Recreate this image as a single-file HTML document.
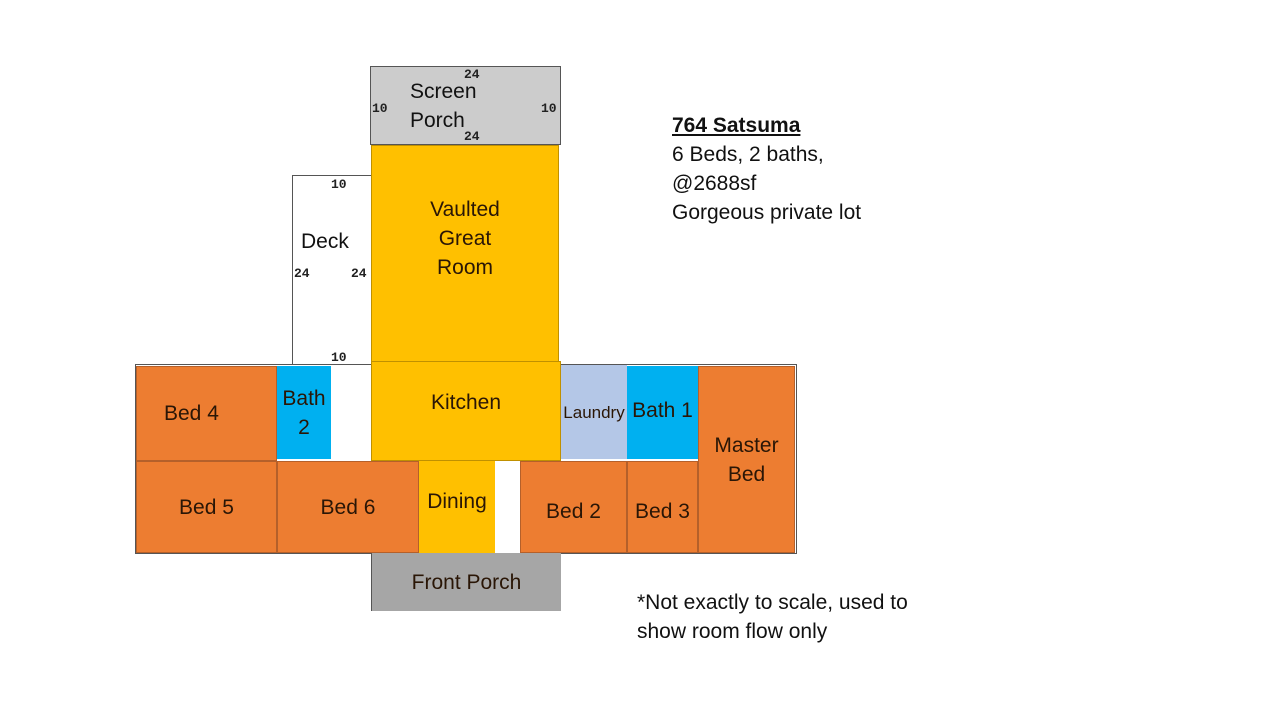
<!DOCTYPE html>
<html><head><meta charset="utf-8"><style>
body{margin:0;width:1280px;height:720px;background:#fff;position:relative;overflow:hidden;font-family:"Liberation Sans",sans-serif;}
.r{position:absolute;box-sizing:border-box;display:flex;align-items:center;justify-content:center;text-align:center;font-size:21px;color:#2a1606;line-height:29px;}
.o{background:#ed7d31;border:1px solid #b5602a;}
.y{background:#ffc000;}
.b{background:#00b0f0;}
.n{position:absolute;font-family:"Liberation Mono",monospace;font-weight:bold;font-size:13px;color:#222;}
.t{position:absolute;font-size:21px;color:#111;line-height:29px;}
</style></head><body>
<div class="r" style="left:370px;top:66px;width:191px;height:79px;background:#cccccc;border:1.5px solid #555;"></div>
<div class="t" style="left:410px;top:77px;">Screen<br>Porch</div>
<div class="n" style="left:464px;top:67px">24</div>
<div class="n" style="left:464px;top:129px">24</div>
<div class="n" style="left:372px;top:101px">10</div>
<div class="n" style="left:541px;top:101px">10</div>
<div class="r" style="left:292px;top:175px;width:80px;height:191px;border:1px solid #555;background:#fff;"></div>
<div class="t" style="left:301px;top:227px">Deck</div>
<div class="n" style="left:331px;top:177px">10</div>
<div class="n" style="left:331px;top:350px">10</div>
<div class="n" style="left:294px;top:266px">24</div>
<div class="n" style="left:351px;top:266px">24</div>
<div class="r y" style="left:371px;top:145px;width:188px;height:217px;border:1px solid #c09000;padding-bottom:30px;">Vaulted<br>Great<br>Room</div>
<div style="position:absolute;left:135px;top:364px;width:662px;height:190px;border:1px solid #555;box-sizing:border-box;background:#fff"></div>
<div class="r o" style="left:136px;top:366px;width:141px;height:95px;justify-content:flex-start;padding-left:27px;">Bed 4</div>
<div class="r b" style="left:277px;top:366px;width:54px;height:93px;">Bath<br>2</div>
<div class="r y" style="left:371px;top:361px;width:190px;height:100px;border:1px solid #c09000;align-items:flex-start;padding-top:26px;">Kitchen</div>
<div class="r" style="left:561px;top:365px;width:66px;height:94px;background:#b4c7e7;font-size:17px;">Laundry</div>
<div class="r b" style="left:627px;top:366px;width:71px;height:93px;align-items:flex-start;padding-top:30px;">Bath 1</div>
<div class="r o" style="left:698px;top:366px;width:97px;height:187px;">Master<br>Bed</div>
<div class="r o" style="left:136px;top:461px;width:141px;height:92px;">Bed 5</div>
<div class="r o" style="left:277px;top:461px;width:142px;height:92px;">Bed 6</div>
<div class="r y" style="left:419px;top:461px;width:76px;height:92px;padding-bottom:12px;">Dining</div>
<div class="r o" style="left:520px;top:461px;width:107px;height:92px;padding-top:8px;">Bed 2</div>
<div class="r o" style="left:627px;top:461px;width:71px;height:92px;padding-top:8px;">Bed 3</div>
<div class="r" style="left:371px;top:553px;width:190px;height:58px;background:#a6a6a6;border-left:1px solid #555;">Front Porch</div>
<div class="t" style="left:672px;top:111px;"><b style="text-decoration:underline">764 Satsuma</b><br>6 Beds, 2 baths,<br>@2688sf<br>Gorgeous private lot</div>
<div class="t" style="left:637px;top:588px;">*Not exactly to scale, used to<br>show room flow only</div>
</body></html>
